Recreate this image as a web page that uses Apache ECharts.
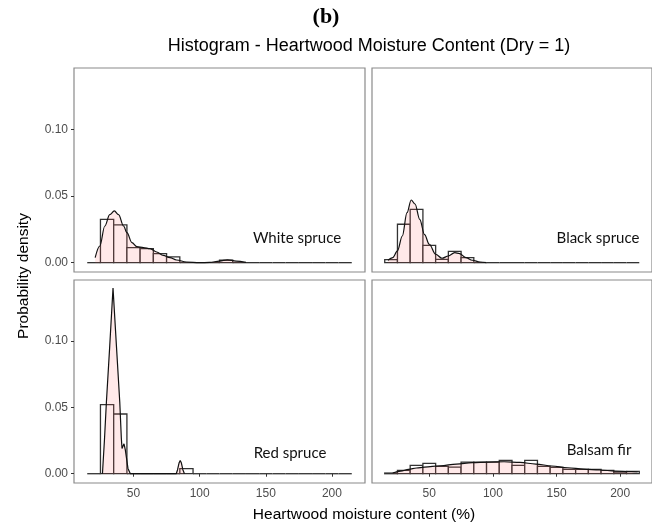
<!DOCTYPE html>
<html><head><meta charset="utf-8">
<script src="https://cdn.jsdelivr.net/npm/echarts@6/dist/echarts.min.js"></script>
<style>html,body{margin:0;padding:0;background:#fff}#c{width:652px;height:528px}</style>
</head><body><div id="c"></div>
<script>
// ---- data ----
const binEdges = [15,25,35,45,55,65,75,85,95,105,115,125,135,145,155,165,175,185,195,205,215];
const whiteHist  = [0, 0.0325, 0.0283, 0.0113, 0.0105, 0.0068, 0.0043, 0, 0, 0, 0.0018, 0, 0, 0, 0, 0, 0, 0, 0, 0];
const blackHist  = [0.0023, 0.0288, 0.0400, 0.0130, 0.0025, 0.0085, 0.0038, 0, 0, 0, 0, 0, 0, 0, 0, 0, 0, 0, 0, 0];
const redHist    = [0, 0.0520, 0.0450, 0, 0, 0, 0, 0.0038, 0, 0, 0, 0, 0, 0, 0, 0, 0, 0, 0, 0];
const balsamHist = [0.0005, 0.0025, 0.0063, 0.0078, 0.0055, 0.0050, 0.0088, 0.0088, 0.0088, 0.0100, 0.0063, 0.0100, 0.0055, 0.0048, 0.0033, 0.0033, 0.0033, 0.0025, 0.0013, 0.0018];

const whiteDensity = [[21,0.0038],[24.5,0.0125],[28.3,0.0275],[32,0.036],[35.5,0.0388],[38.7,0.036],[42.5,0.0275],[45,0.0225],[48.8,0.015],[52.5,0.012],[57.5,0.0113],[62.5,0.0105],[67.5,0.008],[72.5,0.0055],[77.5,0.0038],[82.5,0.002],[90,0.0005],[100,0.0],[107.5,0.0002],[115,0.0012],[121,0.0022],[127.5,0.0012],[135,0.0002]];
const blackDensity = [[17.5,0.0018],[21.3,0.0038],[25,0.0088],[28.8,0.02],[32.5,0.0375],[35.8,0.047],[38.8,0.044],[42.5,0.0325],[46.3,0.021],[50,0.0138],[55,0.0063],[60,0.0033],[65,0.005],[70,0.0075],[73.8,0.0068],[78.8,0.0038],[83.8,0.0018],[90,0.0005],[95,0]];
const redDensity = [[26.5,0],[28,0.025],[29.5,0.054],[32,0.096],[34.5,0.140],[37.1,0.096],[39.6,0.054],[40.8,0.0265],[41.3,0.019],[42.8,0.0225],[43.8,0.018],[45.8,0.004],[47.6,0],[60,0],[70,0],[82.3,0],[83.3,0.003],[84.4,0.008],[85.3,0.0100],[86.2,0.008],[87.3,0.003],[88.5,0]];
const balsamDensity = [[21.3,0.0005],[27.5,0.002],[33.8,0.0033],[40,0.0043],[46.3,0.005],[58.8,0.006],[71.3,0.0073],[83.8,0.0083],[96.3,0.0088],[108.8,0.009],[121.3,0.0085],[133.8,0.0073],[146.3,0.0058],[158.8,0.0045],[171.3,0.0035],[183.8,0.0028],[196.3,0.002],[208.8,0.0015],[213.8,0.0013]];

const panelNames = ['White spruce', 'Black spruce', 'Red spruce', 'Balsam fir'];
const xTicks = [50, 100, 150, 200];
const yTicks = [0, 0.05, 0.10];
const titleText = 'Histogram - Heartwood Moisture Content (Dry = 1)';
const panelLetter = '(b)';
const xTitle = 'Heartwood moisture content (%)';
const yTitle = 'Probability density';

// ---- build ----
const hists = [whiteHist, blackHist, redHist, balsamHist];
const dens = [whiteDensity, blackDensity, redDensity, balsamDensity];
const gridBoxes = [
  {left: 74, top: 68, width: 291, height: 204},
  {left: 372, top: 68, width: 291, height: 204},
  {left: 74, top: 280, width: 291, height: 203},
  {left: 372, top: 280, width: 291, height: 203}
];
const labelPos = [[297, 238], [598, 238], [290, 453], [599, 450]];
const FONT = 'Liberation Sans, Arial, sans-serif';

const grid = gridBoxes.map(g => Object.assign({show: true, borderColor: '#8a8a8a', borderWidth: 1.2, backgroundColor: '#fff'}, g));
const xAxis = gridBoxes.map((g, i) => ({
  type: 'value', gridIndex: i, min: 5, max: 225,
  axisLine: {show: false}, splitLine: {show: false},
  axisTick: {show: i >= 2, customValues: xTicks, length: 3, lineStyle: {color: '#333'}},
  axisLabel: {show: i >= 2, customValues: xTicks, color: '#4d4d4d', fontSize: 12, fontFamily: FONT, margin: 5}
}));
const yAxis = gridBoxes.map((g, i) => ({
  type: 'value', gridIndex: i, min: -0.007, max: 0.146,
  axisLine: {show: false}, splitLine: {show: false},
  axisTick: {show: i % 2 === 0, customValues: yTicks, length: 3, lineStyle: {color: '#333'}},
  axisLabel: {show: i % 2 === 0, customValues: yTicks, color: '#4d4d4d', fontSize: 12, fontFamily: FONT, margin: 6,
    formatter: v => v.toFixed(2)}
}));

const series = [];
hists.forEach((h, i) => {
  const data = h.map((v, k) => [binEdges[k], binEdges[k + 1], v]);
  series.push({
    type: 'custom', xAxisIndex: i, yAxisIndex: i, data: data, z: 2,
    renderItem: (params, api) => {
      const x0 = api.value(0), x1 = api.value(1), hv = api.value(2);
      const p0 = api.coord([x0, 0]);
      const p1 = api.coord([x1, hv]);
      if (hv === 0) {
        return {type: 'line', shape: {x1: p0[0], y1: p0[1], x2: p1[0], y2: p0[1]},
          style: {stroke: '#333', lineWidth: 1.3}};
      }
      return {type: 'rect', shape: {x: p0[0], y: p1[1], width: p1[0] - p0[0], height: p0[1] - p1[1]},
        style: {fill: '#fff', stroke: '#333', lineWidth: 1.3}};
    }
  });
  series.push({
    type: 'line', xAxisIndex: i, yAxisIndex: i, data: dens[i], z: 3,
    showSymbol: false, symbol: 'none',
    smooth: i === 2 ? false : 0.35, smoothMonotone: 'x',
    lineStyle: {color: '#111', width: 1.2},
    areaStyle: {color: 'rgba(255,102,102,0.2)', origin: 0},
    silent: true
  });
});

const graphic = [
  {type: 'text', x: 326, y: 17, style: {text: panelLetter, font: 'bold 22px "Liberation Serif", serif', fill: '#000', textAlign: 'center', textVerticalAlign: 'middle'}},
  {type: 'text', x: 369, y: 46, style: {text: titleText, font: '18px ' + FONT, fill: '#000', textAlign: 'center', textVerticalAlign: 'middle'}},
  {type: 'text', x: 364, y: 515, style: {text: xTitle, font: '15.5px ' + FONT, fill: '#000', textAlign: 'center', textVerticalAlign: 'middle'}},
  {type: 'text', x: 24, y: 276, rotation: Math.PI / 2, style: {text: yTitle, font: '15.5px ' + FONT, fill: '#000', textAlign: 'center', textVerticalAlign: 'middle'}}
];
panelNames.forEach((n, i) => {
  graphic.push({type: 'text', x: labelPos[i][0], y: labelPos[i][1], z: 10,
    style: {text: n, font: '15px Lato, "Open Sans", sans-serif', fill: '#111', textAlign: 'center', textVerticalAlign: 'middle'}});
});

const chart = echarts.init(document.getElementById('c'), null, {renderer: 'canvas'});
chart.setOption({animation: false, grid, xAxis, yAxis, series, graphic});
</script></body></html>
